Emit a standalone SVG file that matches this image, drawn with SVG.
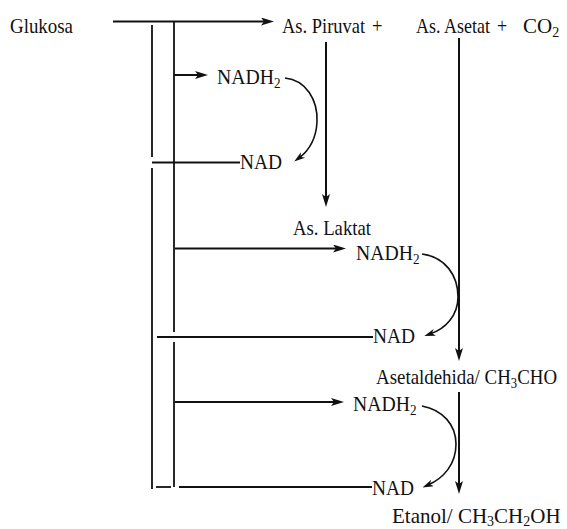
<svg xmlns="http://www.w3.org/2000/svg" width="567" height="529" viewBox="0 0 567 529">
<style>
text{font-family:"Liberation Serif","Times New Roman",serif;font-size:21px;fill:#111}
.sub{font-size:14px}
.ln{stroke:#111;stroke-width:2;fill:none}
.vl{stroke:#111;stroke-width:1.8;fill:none}
.cv{stroke:#111;stroke-width:1.6;fill:none}
</style>
<defs>
<marker id="ah" viewBox="0 0 13 8" refX="6" refY="4" markerWidth="13" markerHeight="8" markerUnits="userSpaceOnUse" orient="auto"><path d="M0,0 L13,4 L0,8 L3,4 z" fill="#111"/></marker>
<marker id="ahs" viewBox="0 0 11 7" refX="5" refY="3.5" markerWidth="11" markerHeight="7" markerUnits="userSpaceOnUse" orient="auto"><path d="M0,0 L11,3.5 L0,7 L3,3.5 z" fill="#111"/></marker>
</defs>
<rect width="567" height="529" fill="#fff"/>
<g id="connectors">
<line class="ln" x1="113" y1="21.5" x2="267" y2="21.5" marker-end="url(#ah)"/>
<line class="vl" x1="152" y1="25" x2="152" y2="157"/>
<line class="vl" x1="152" y1="168" x2="152" y2="489"/>
<line class="vl" x1="174" y1="22" x2="174" y2="332"/>
<line class="vl" x1="174" y1="342" x2="174" y2="487"/>
<line class="ln" x1="174" y1="75" x2="201" y2="75" marker-end="url(#ah)"/>
<path class="cv" d="M285,78 C306,80 318,100 317,122 C316,141 307,152 299,158" marker-end="url(#ahs)"/>
<line class="vl" x1="152" y1="162.5" x2="240" y2="162.5"/>
<line class="ln" x1="326" y1="42" x2="326" y2="200" marker-end="url(#ah)"/>
<line class="ln" x1="175" y1="248.5" x2="339" y2="248.5" marker-end="url(#ah)"/>
<path class="cv" d="M422,254 C445,257 458,275 458,297 C458,316 445,329 430,334" marker-end="url(#ahs)"/>
<line class="vl" x1="157" y1="337" x2="373" y2="337"/>
<line class="ln" x1="459" y1="38" x2="459" y2="354" marker-end="url(#ah)"/>
<line class="ln" x1="175" y1="402" x2="337" y2="402" marker-end="url(#ah)"/>
<path class="cv" d="M422,406 C443,410 456,425 456,444 C456,464 444,478 428,485" marker-end="url(#ahs)"/>
<line class="vl" x1="156" y1="487" x2="171" y2="487"/>
<line class="vl" x1="179" y1="487" x2="372" y2="487"/>
<line class="ln" x1="459" y1="392" x2="459" y2="487" marker-end="url(#ah)"/>
</g>
<g id="glukosa"><text x="10" y="33" textLength="63" lengthAdjust="spacingAndGlyphs">Glukosa</text></g>
<g id="piruvat"><text transform="translate(282,33) scale(0.88,1)">As. Piruvat<tspan x="102.3">+</tspan></text></g>
<g id="asetat"><text transform="translate(416,33) scale(0.857,1)">As. Asetat<tspan x="94.5">+</tspan></text><text x="523" y="33">CO<tspan class="sub" dy="4">2</tspan></text></g>
<g id="nadh2-1"><text transform="translate(217,84) scale(0.94,1)">NADH<tspan class="sub" dy="4">2</tspan></text></g>
<g id="nad-1"><text x="240" y="169" textLength="42" lengthAdjust="spacingAndGlyphs">NAD</text></g>
<g id="laktat"><text x="293" y="235" textLength="78" lengthAdjust="spacingAndGlyphs">As. Laktat</text></g>
<g id="nadh2-2"><text transform="translate(356,260) scale(0.94,1)">NADH<tspan class="sub" dy="4">2</tspan></text></g>
<g id="nad-2"><text x="373" y="343" textLength="42" lengthAdjust="spacingAndGlyphs">NAD</text></g>
<g id="asetaldehida"><text transform="translate(376,384) scale(0.9,1)">Asetaldehida/ CH<tspan class="sub" dy="4">3</tspan><tspan dy="-4">CHO</tspan></text></g>
<g id="nadh2-3"><text transform="translate(353,411) scale(0.94,1)">NADH<tspan class="sub" dy="4">2</tspan></text></g>
<g id="nad-3"><text x="372" y="495" textLength="42" lengthAdjust="spacingAndGlyphs">NAD</text></g>
<g id="etanol"><text x="392" y="523">Etanol/ CH<tspan class="sub" dy="3">3</tspan><tspan dy="-3">CH</tspan><tspan class="sub" dy="3">2</tspan><tspan dy="-3">OH</tspan></text></g>
</svg>
